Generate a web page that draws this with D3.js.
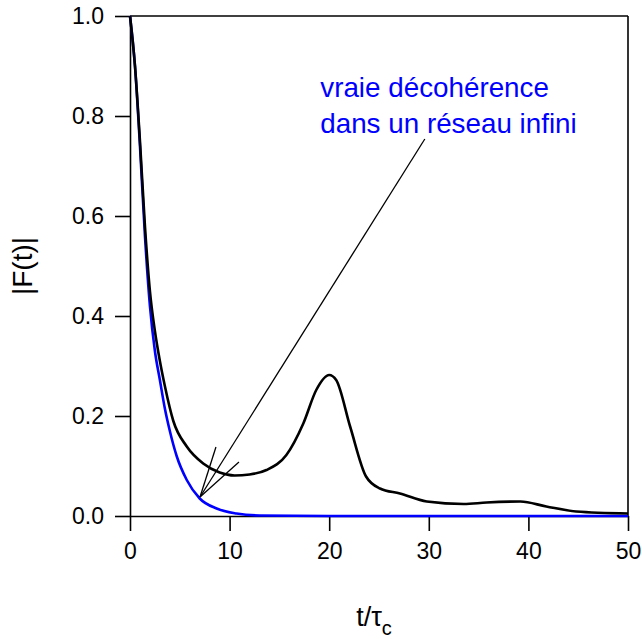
<!DOCTYPE html>
<html>
<head>
<meta charset="utf-8">
<script src="https://cdn.jsdelivr.net/npm/d3@7"></script>
<style>
  body { margin: 0; background: #fff; }
  text { font-family: Arial, "Liberation Sans", sans-serif; }
</style>
</head>
<body>
<div id="chart"></div>
<script>
// valeurs
var tBlack = [0, 0.5, 1.0, 1.5, 2.0, 2.5, 3.0, 3.5, 4.35, 5.7, 7.35, 9, 10.5, 12, 13.7, 15.7, 17.4, 18.7, 20, 20.7, 22.1, 23.7, 25.1, 27.1, 29.8, 33.5, 35.8, 39.2, 41.8, 44.8, 50];
var fBlack = [1.0, 0.90, 0.75, 0.58, 0.45, 0.37, 0.31, 0.26, 0.19, 0.139, 0.105, 0.087, 0.081, 0.083, 0.092, 0.122, 0.185, 0.252, 0.282, 0.272, 0.179, 0.079, 0.055, 0.045, 0.029, 0.024, 0.027, 0.029, 0.019, 0.009, 0.005];

var tBlue = [0, 0.5, 1.0, 1.5, 2.0, 2.5, 3.0, 3.5, 4.0, 4.7, 5.7, 7.0, 8.7, 10.7, 13, 20, 30, 40, 50];
var fBlue = [1.0, 0.90, 0.74, 0.56, 0.42, 0.33, 0.272, 0.215, 0.17, 0.119, 0.072, 0.035, 0.015, 0.005, 0.001, 0, 0, 0, 0];

var xTicks = [0, 10, 20, 30, 40, 50];
var yTicks = [0, 0.2, 0.4, 0.6, 0.8, 1.0];

// annotation (coordonnées en unités des données)
var noteLines = ["vraie décohérence", "dans un réseau infini"];
var notePos = [19.1, 0.838];
var arrowTip = [7.03, 0.038];
var arrowTail = [29.6, 0.754];
var arrowHead = [[8.63, 0.138], [10.94, 0.108]];

var margin = {top: 16, right: 14, bottom: 123, left: 130},
    width = 642 - margin.left - margin.right,
    height = 639 - margin.top - margin.bottom;

var svg = d3.select("#chart")
    .append("svg")
    .attr("width", 642)
    .attr("height", 639)
    .append("g")
    .attr("transform", "translate(" + margin.left + "," + margin.top + ")");

var x = d3.scaleLinear().domain([0, 50]).range([0, width]);
var y = d3.scaleLinear().domain([0, 1]).range([height, 0]);

// axe x
var gx = svg.append("g")
    .attr("transform", "translate(0," + height + ")")
    .call(d3.axisBottom(x).tickValues(xTicks).tickSize(15).tickSizeOuter(0).tickPadding(12));
gx.selectAll("text").style("font-size", "23px").attr("fill", "#000");

// axe y
var gy = svg.append("g")
    .call(d3.axisLeft(y).tickValues(yTicks).tickFormat(d3.format(".1f")).tickSize(15).tickSizeOuter(0).tickPadding(11));
gy.selectAll("text").style("font-size", "23px").attr("fill", "#000");

svg.selectAll(".domain, .tick line").attr("stroke", "#000").attr("stroke-width", 1.6);

// cadre haut et droite
svg.append("line").attr("x1", 0).attr("x2", width).attr("y1", 0).attr("y2", 0)
    .attr("stroke", "#000").attr("stroke-width", 1.6);
svg.append("line").attr("x1", width).attr("x2", width).attr("y1", 0).attr("y2", height)
    .attr("stroke", "#000").attr("stroke-width", 1.6);

var line = d3.line()
    .x(function(d) { return x(d[0]); })
    .y(function(d) { return y(d[1]); })
    .curve(d3.curveMonotoneX);

svg.append("path")
    .datum(d3.zip(tBlue, fBlue))
    .attr("d", line)
    .attr("fill", "none")
    .attr("stroke", "#0000ff")
    .attr("stroke-width", 2.6);

svg.append("path")
    .datum(d3.zip(tBlack, fBlack))
    .attr("d", line)
    .attr("fill", "none")
    .attr("stroke", "#000")
    .attr("stroke-width", 2.6);

// flèche
[arrowTail].concat(arrowHead).forEach(function(p) {
    svg.append("line")
        .attr("x1", x(arrowTip[0])).attr("y1", y(arrowTip[1]))
        .attr("x2", x(p[0])).attr("y2", y(p[1]))
        .attr("stroke", "#000")
        .attr("stroke-width", 1.3);
});

// texte bleu
svg.append("text")
    .attr("x", x(notePos[0]))
    .attr("y", y(notePos[1]))
    .attr("fill", "#0000ff")
    .style("font-size", "27.8px")
    .selectAll("tspan")
    .data(noteLines)
    .enter()
    .append("tspan")
    .attr("x", x(notePos[0]))
    .attr("dy", function(d, i) { return i ? 36 : 0; })
    .text(function(d) { return d; });

// titres des axes
svg.append("text")
    .attr("transform", "translate(" + (-98) + "," + (height / 2) + ")rotate(-90)")
    .attr("text-anchor", "middle")
    .style("font-size", "28px")
    .text("|F(t)|");

var xt = svg.append("text")
    .attr("x", width / 2 - 5)
    .attr("y", height + 110)
    .attr("text-anchor", "middle")
    .style("font-size", "27px");
xt.append("tspan").text("t/τ");
xt.append("tspan").attr("dy", 9).style("font-size", "20px").text("c");
</script>
</body>
</html>
